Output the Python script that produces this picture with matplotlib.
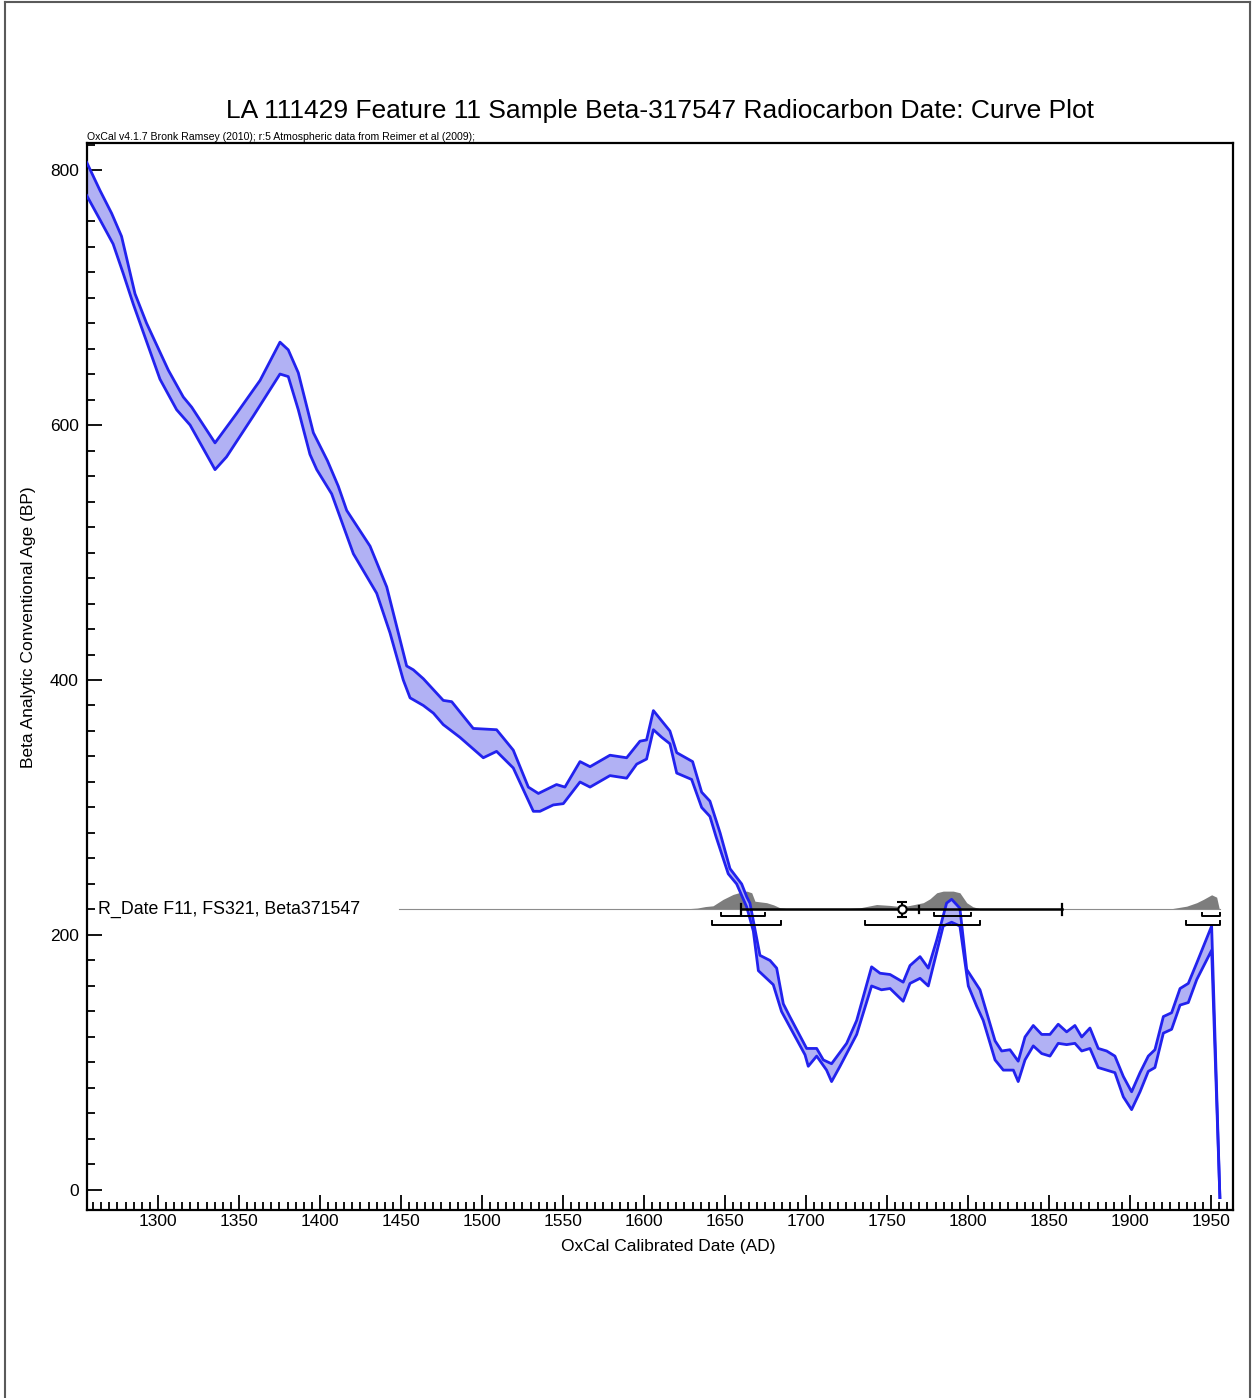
import numpy as np
import matplotlib
matplotlib.use("Agg")
import matplotlib.pyplot as plt
from matplotlib.lines import Line2D
from matplotlib.ticker import MultipleLocator

plt.rcParams['font.family'] = ['Liberation Sans', 'DejaVu Sans']

# ---------------------------------------------------------------------------
# calibration curve: upper / lower edge of the band (cal AD, BP)
# ---------------------------------------------------------------------------
upper_year = [1256.0, 1264.2, 1271.4, 1277.5, 1285.8, 1292.9, 1306.4, 1315.6, 1320.8, 1335.2,
              1348.5, 1363.0, 1375.3, 1380.4, 1386.6, 1395.9, 1404.6, 1411.3, 1416.5, 1430.9,
              1441.2, 1453.5, 1457.6, 1463.8, 1476.1, 1481.3, 1494.6, 1509.0, 1519.3, 1528.6,
              1534.8, 1546.0, 1551.2, 1560.5, 1566.7, 1579.0, 1589.3, 1597.5, 1601.6, 1605.8,
              1616.0, 1620.2, 1630.0, 1635.6, 1640.7, 1647.0, 1653.1, 1660.3, 1663.4, 1665.4,
              1671.6, 1677.8, 1681.9, 1686.0, 1690.0, 1700.4, 1706.6, 1710.7, 1715.8, 1725.1,
              1731.3, 1740.5, 1745.7, 1751.9, 1760.0, 1764.2, 1770.4, 1775.5, 1780.7, 1786.8,
              1789.9, 1795.0, 1799.2, 1803.3, 1807.4, 1816.7, 1820.8, 1825.9, 1831.0, 1835.2,
              1840.3, 1845.5, 1850.6, 1855.7, 1860.9, 1866.0, 1870.2, 1875.3, 1880.4, 1885.6,
              1890.7, 1895.9, 1901.0, 1906.2, 1911.3, 1915.4, 1920.6, 1925.7, 1930.9, 1936.0,
              1941.2, 1950.4, 1955.5]
upper_bp = [806, 784, 766, 748, 703, 680, 643, 622, 614, 586,
            609, 635, 665, 659, 641, 594, 572, 552, 533, 505,
            473, 411, 408, 401, 384, 383, 362, 361, 345, 316,
            311, 318, 316, 336, 332, 341, 339, 352, 353, 376,
            360, 343, 336, 312, 305, 280, 252, 240, 230, 225,
            184, 180, 174, 146, 136, 111, 111, 102, 99, 115,
            133, 175, 170, 169, 163, 176, 183, 174, 196, 225,
            228, 221, 173, 165, 157, 117, 109, 110, 101, 120,
            129, 122, 122, 130, 124, 129, 120, 127, 111, 109,
            105, 89, 77, 92, 105, 110, 136, 139, 158, 162,
            178, 207, -6]

lower_year = [1256.0, 1264.2, 1272.3, 1278.5, 1284.7, 1301.2, 1311.5, 1319.8, 1335.2, 1342.3,
              1358.8, 1375.3, 1380.4, 1386.6, 1393.8, 1398.0, 1407.2, 1420.6, 1435.0, 1443.2,
              1451.4, 1455.6, 1463.8, 1470.0, 1476.1, 1486.4, 1500.8, 1509.0, 1519.3, 1531.7,
              1535.8, 1544.0, 1550.2, 1560.5, 1566.7, 1579.0, 1589.3, 1595.5, 1601.6, 1605.8,
              1611.0, 1616.0, 1620.2, 1629.4, 1635.6, 1640.7, 1644.5, 1652.0, 1657.2, 1663.4,
              1667.5, 1670.6, 1679.8, 1684.9, 1690.0, 1699.4, 1701.4, 1706.6, 1712.7, 1715.8,
              1721.0, 1731.3, 1740.5, 1746.6, 1751.9, 1760.0, 1764.2, 1770.4, 1775.5, 1784.7,
              1789.9, 1795.0, 1800.2, 1805.4, 1809.4, 1816.7, 1821.8, 1828.0, 1831.0, 1835.2,
              1840.3, 1845.5, 1850.6, 1855.7, 1860.9, 1866.0, 1870.2, 1875.3, 1880.4, 1885.6,
              1890.7, 1895.9, 1901.0, 1906.2, 1911.3, 1915.4, 1920.6, 1925.7, 1930.9, 1936.0,
              1941.2, 1950.4, 1955.5]
lower_bp = [780, 761, 742, 719, 695, 636, 612, 600, 565, 575,
            607, 640, 638, 612, 577, 565, 546, 499, 468, 437,
            400, 386, 380, 374, 365, 355, 339, 344, 331, 297,
            297, 302, 303, 320, 316, 325, 323, 334, 338, 361,
            355, 350, 327, 322, 300, 293, 277, 248, 240, 222,
            203, 172, 161, 140, 128, 106, 97, 105, 94, 85,
            97, 122, 160, 157, 158, 148, 162, 166, 160, 207,
            210, 207, 160, 144, 133, 102, 94, 94, 85, 102,
            113, 107, 105, 115, 114, 115, 109, 111, 96, 94,
            92, 73, 63, 77, 93, 96, 123, 126, 145, 147,
            165, 188, -6]

# ---------------------------------------------------------------------------
# R_Date: calibrated probability, ranges, mean / sigma / median
# ---------------------------------------------------------------------------
date_label = "R_Date F11, FS321, Beta371547"
date_bp = 220
dist_year = [1449, 1500, 1525, 1540, 1560, 1600, 1625, 1633, 1638, 1642.6,
             1648.8, 1655, 1660, 1663.4, 1666.5, 1668.5, 1675.7, 1680, 1684, 1690,
             1700, 1720, 1733.3, 1743.6, 1751.9, 1756, 1763, 1772.4, 1776.5, 1780.7,
             1784.7, 1790.9, 1795, 1799.2, 1803, 1807.4, 1815, 1850, 1900, 1924.7,
             1935, 1941.2, 1945.3, 1950.4, 1953.5, 1955.1, 1955.6]
dist_prob = [0, 0.005, 0.02, 0.025, 0.02, 0.01, 0.03, 0.08, 0.16, 0.2,
             0.55, 0.82, 0.95, 1.0, 0.91, 0.45, 0.37, 0.25, 0.09, 0.03,
             0.01, 0.01, 0.09, 0.27, 0.22, 0.18, 0.2, 0.37, 0.58, 0.91,
             1.0, 1.0, 0.91, 0.37, 0.15, 0.04, 0.01, 0.005, 0.005, 0.03,
             0.18, 0.37, 0.55, 0.8, 0.67, 0.04, 0]
range_68 = [(1647.5, 1674.7), (1779.0, 1801.9), (1944.4, 1955.6)]
range_95 = [(1642.0, 1684.6), (1736.4, 1807.4), (1934.6, 1955.6)]
cal_mean = 1759
cal_sigma = 99
cal_median = 1770

title = "LA 111429 Feature 11 Sample Beta-317547 Radiocarbon Date: Curve Plot"
credit = "OxCal v4.1.7 Bronk Ramsey (2010); r:5 Atmospheric data from Reimer et al (2009);"
xlabel = "OxCal Calibrated Date (AD)"
ylabel = "Beta Analytic Conventional Age (BP)"

# ---------------------------------------------------------------------------
fig = plt.figure(figsize=(12.56, 13.98), dpi=100)
ax = fig.add_axes([0.0693, 0.1345, 0.9124, 0.7632])

# probability distribution sitting on the date row
ax.fill_between(dist_year, date_bp, date_bp + np.array(dist_prob) * 14.4,
                color='#7d7d7d', lw=0, zorder=1)
ax.plot([dist_year[0], dist_year[-1]], [date_bp, date_bp], color='#8c8c8c', lw=0.8, zorder=1)

# calibration band
ax.fill(np.r_[upper_year, lower_year[::-1]], np.r_[upper_bp, lower_bp[::-1]],
        color='#b1b1f4', lw=0, zorder=2)
for xs, ys in ((upper_year, upper_bp), (lower_year, lower_bp)):
    ax.plot(xs, ys, color='#2222ee', lw=2.0, solid_joinstyle='round', zorder=3)

# mean +/- sigma bar
lo, hi = cal_mean - cal_sigma, cal_mean + cal_sigma
ax.plot([lo, hi], [date_bp, date_bp], color='black', lw=1.8, zorder=4)
for x in (lo, hi):
    ax.plot([x, x], [date_bp - 4, date_bp + 4], color='black', lw=1.6, zorder=4)
ax.plot([cal_median, cal_median], [date_bp - 3, date_bp + 3], color='black', lw=1.6, zorder=4)
ax.errorbar(cal_mean, date_bp, yerr=5.7, fmt='o', mfc='white', mec='black', mew=1.5, ms=6,
            ecolor='black', elinewidth=1.5, capsize=3.3, capthick=1.5, zorder=5)

# 68.2% and 95.4% range brackets
for ranges, off in ((range_68, 5.5), (range_95, 11.8)):
    y0 = date_bp - off
    for a, b in ranges:
        ax.plot([a, a, b, b], [y0 + 2.6, y0, y0, y0 + 2.6], color='black', lw=1.4, zorder=4)

ax.text(1263, date_bp, date_label, fontsize=12.8, va='center', ha='left')

# axes
ax.set_xlim(1256.2, 1963.6)
ax.set_ylim(-15.7, 821.2)
ax.xaxis.set_major_locator(MultipleLocator(50))
ax.xaxis.set_minor_locator(MultipleLocator(5))
ax.yaxis.set_major_locator(MultipleLocator(200))
ax.yaxis.set_minor_locator(MultipleLocator(20))
ax.tick_params(which='both', direction='in', top=False, right=False, width=1.3, labelsize=12.5)
ax.tick_params(which='major', length=11)
ax.tick_params(which='minor', length=5.5)
ax.tick_params(axis='x', pad=3)
ax.tick_params(axis='y', pad=6)
for s in ax.spines.values():
    s.set_linewidth(1.6)

ax.set_xlabel(xlabel, fontsize=12.5)
ax.set_ylabel(ylabel, fontsize=12.5)
ax.xaxis.set_label_coords(0.507, -0.0347)
ax.xaxis.label.set_va('center')
ax.yaxis.set_label_coords(-0.0515, 0.546)
ax.yaxis.label.set_va('center')
ax.yaxis.label.set_ha('center')

ax.text(0.5, 1.030, title, transform=ax.transAxes, fontsize=19, ha='center', va='center')
ax.text(0.0, 1.0005, credit, transform=ax.transAxes, fontsize=7.6, ha='left', va='bottom')

# page frame
for xs, ys in (([0.004, 0.004], [0.0, 0.9986]),
               ([0.004, 0.9952], [0.9986, 0.9986]),
               ([0.9952, 0.9952], [0.9986, 0.0])):
    fig.add_artist(Line2D(xs, ys, transform=fig.transFigure, color='#5a5a5a', lw=1.5))

fig.savefig("out.png", dpi=100)
